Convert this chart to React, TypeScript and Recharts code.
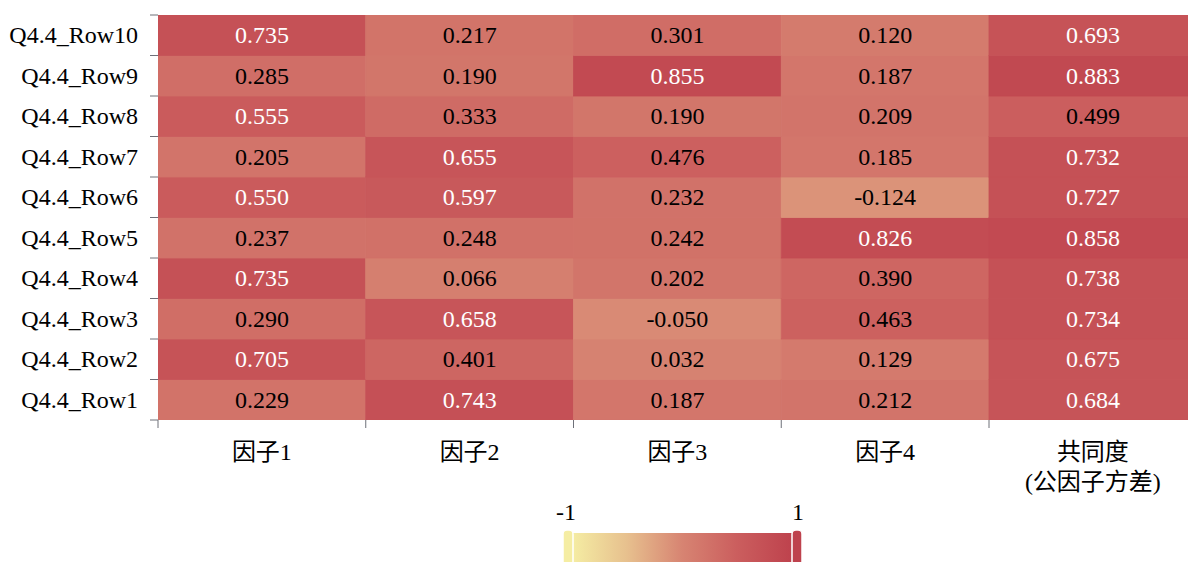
import { ScatterChart, Scatter, XAxis, YAxis } from 'recharts'

const ROWS = ['Q4.4_Row1', 'Q4.4_Row2', 'Q4.4_Row3', 'Q4.4_Row4', 'Q4.4_Row5', 'Q4.4_Row6', 'Q4.4_Row7', 'Q4.4_Row8', 'Q4.4_Row9', 'Q4.4_Row10']
const COLS = ['因子1', '因子2', '因子3', '因子4', '共同度\n(公因子方差)']

// values listed Row1 -> Row10
const factor1 = [0.229, 0.705, 0.290, 0.735, 0.237, 0.550, 0.205, 0.555, 0.285, 0.735]
const factor2 = [0.743, 0.401, 0.658, 0.066, 0.248, 0.597, 0.655, 0.333, 0.190, 0.217]
const factor3 = [0.187, 0.032, -0.050, 0.202, 0.242, 0.232, 0.476, 0.190, 0.855, 0.301]
const factor4 = [0.212, 0.129, 0.463, 0.390, 0.826, -0.124, 0.185, 0.209, 0.187, 0.120]
const communality = [0.684, 0.675, 0.734, 0.738, 0.858, 0.727, 0.732, 0.499, 0.883, 0.693]

const SERIES = [factor1, factor2, factor3, factor4, communality]

const W = 1200
const H = 562
const LEFT = 158
const TOP = 15
const PLOT_W = 1038.75
const PLOT_H = 405
const CELL_W = PLOT_W / COLS.length
const CELL_H = PLOT_H / ROWS.length
const FONT = '"Liberation Serif", "Times New Roman", "Noto Sans CJK SC", serif'
const FS = 24
const TICK = '#6e7079'

const STOPS: [number, number[]][] = [
  [-1, [245, 237, 163]],
  [-0.5, [231, 192, 142]],
  [0, [215, 132, 114]],
  [0.5, [203, 94, 94]],
  [1, [190, 66, 77]],
]

function colorFor(v: number) {
  for (let i = 0; i < STOPS.length - 1; i++) {
    const [a, ca] = STOPS[i]
    const [b, cb] = STOPS[i + 1]
    if (v <= b || i === STOPS.length - 2) {
      const t = Math.max(0, Math.min(1, (v - a) / (b - a)))
      const c = ca.map((x, k) => Math.round(x + (cb[k] - x) * t))
      return `rgb(${c[0]},${c[1]},${c[2]})`
    }
  }
  return '#000'
}

const cells = SERIES.flatMap((vals, c) =>
  vals.map((v, r) => ({ x: c + 0.5, y: r + 0.5, v })))

function Cell(props: any) {
  const { cx, cy, payload } = props
  const v = payload.v as number
  const fill = colorFor(v)
  return (
    <g>
      <rect x={cx - CELL_W / 2} y={cy - CELL_H / 2} width={CELL_W} height={CELL_H}
        fill={fill} stroke={fill} strokeWidth={0.8} />
      <text x={cx} y={cy} textAnchor="middle" dominantBaseline="central" fontSize={FS}
        fontFamily={FONT} fill={v >= 0.5 ? '#fff' : '#000'}>{v.toFixed(3)}</text>
    </g>
  )
}

function XTick(props: any) {
  const { x, y, index } = props
  if (index >= COLS.length) return null
  const lines = COLS[index].split('\n')
  return (
    <text x={x + CELL_W / 2} y={y} textAnchor="middle" fontSize={FS} fontFamily={FONT} fill="#000">
      {lines.map((l, i) => (
        <tspan key={i} x={x + CELL_W / 2} dy={30}>{l}</tspan>
      ))}
    </text>
  )
}

function YTick(props: any) {
  const { x, y, index } = props
  if (index >= ROWS.length) return null
  return (
    <text x={x} y={y - CELL_H / 2} textAnchor="end" dominantBaseline="central" fontSize={FS}
      fontFamily={FONT} fill="#000">{ROWS[index]}</text>
  )
}

function ColorBar() {
  return (
    <svg width={1188} height={562} style={{ position: 'absolute', left: 0, top: 0, pointerEvents: 'none' }}>
      <defs>
        <linearGradient id="vm" x1="0" x2="1" y1="0" y2="0">
          {STOPS.map(([v], i) => (
            <stop key={i} offset={(v + 1) / 2} stopColor={colorFor(v)} />
          ))}
        </linearGradient>
      </defs>
      <rect x={572} y={533} width={220} height={40} fill="url(#vm)" />
      <rect x={563} y={530} width={10} height={40} rx={4} fill={colorFor(-1)} stroke="#fff" strokeWidth={1.5} />
      <rect x={792} y={530} width={10} height={40} rx={4} fill={colorFor(1)} stroke="#fff" strokeWidth={1.5} />
      <text x={566} y={520} textAnchor="middle" fontSize={FS} fontFamily={FONT} fill="#000">-1</text>
      <text x={798} y={520} textAnchor="middle" fontSize={FS} fontFamily={FONT} fill="#000">1</text>
    </svg>
  )
}

export default function App() {
  return (
    <div style={{ position: 'fixed', left: 0, top: 0, width: 1188, height: 562, overflow: 'hidden', background: '#fff' }}>
      <ScatterChart width={W} height={H} margin={{ top: TOP, right: W - LEFT - PLOT_W, bottom: 0, left: 0 }}>
        <XAxis type="number" dataKey="x" domain={[0, COLS.length]} ticks={[0, 1, 2, 3, 4, 5]}
          allowDataOverflow axisLine={false} tickLine={{ stroke: TICK }} tickSize={8}
          height={H - TOP - PLOT_H} tick={<XTick />} interval={0} />
        <YAxis type="number" dataKey="y" domain={[0, ROWS.length]} ticks={[0, 1, 2, 3, 4, 5, 6, 7, 8, 9, 10]}
          allowDataOverflow axisLine={false} tickLine={{ stroke: TICK }} tickSize={8} tickMargin={12}
          width={LEFT} tick={<YTick />} interval={0} />
        <Scatter data={cells} shape={<Cell />} isAnimationActive={false} />
      </ScatterChart>
      <ColorBar />
    </div>
  )
}
